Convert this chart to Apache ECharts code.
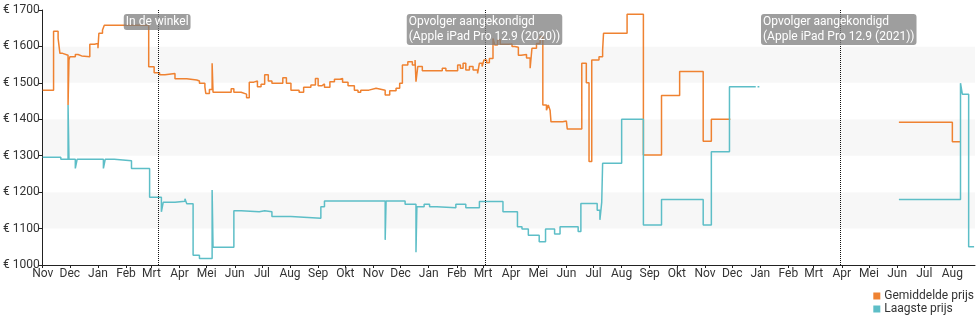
<!DOCTYPE html>
<html>
<head>
<meta charset="utf-8">
<script src="https://cdn.jsdelivr.net/npm/echarts@6/dist/echarts.min.js"></script>
<style>html,body{margin:0;padding:0;background:#fff}#c{width:980px;height:325px}</style>
</head>
<body>
<div id="c"></div>
<script>
var monthNames = ['Jan','Feb','Mrt','Apr','Mei','Jun','Jul','Aug','Sep','Okt','Nov','Dec'];
var seriesNames = ['Gemiddelde prijs','Laagste prijs'];
var yTicks = [1000,1100,1200,1300,1400,1500,1600,1700];
var xRange = ['2018-11-01','2021-08-26'];
var events = [
  ['2019-03-08','In de winkel'],
  ['2020-03-04','Opvolger aangekondigd\n(Apple iPad Pro 12.9 (2020))'],
  ['2021-03-30','Opvolger aangekondigd\n(Apple iPad Pro 12.9 (2021))']
];
var avgPrice = [
['2018-11-01',1480],['2018-11-13',1642],['2018-11-18',1622],['2018-11-20',1581],['2018-11-23',1576],
['2018-11-29',1439],['2018-11-30',1563],['2018-12-01',1572],['2018-12-07',1578],['2018-12-10',1574],
['2018-12-14',1572],['2018-12-23',1606],['2018-12-28',1608],['2019-01-01',1595],['2019-01-02',1636],
['2019-01-06',1645],['2019-01-08',1658],['2019-02-26',1544],['2019-03-04',1528],['2019-03-10',1522],
['2019-03-16',1526],['2019-03-27',1511],['2019-04-09',1508],['2019-04-20',1505],['2019-04-23',1499],
['2019-04-29',1489],['2019-04-30',1471],['2019-05-04',1482],['2019-05-07',1554],['2019-05-08',1474],
['2019-05-28',1484],['2019-05-31',1474],['2019-06-08',1469],['2019-06-14',1459],['2019-06-17',1502],
['2019-06-22',1505],['2019-06-26',1489],['2019-06-30',1496],['2019-07-04',1522],['2019-07-08',1505],
['2019-07-12',1499],['2019-07-24',1514],['2019-07-28',1499],['2019-08-02',1480],['2019-08-11',1474],
['2019-08-16',1488],['2019-08-24',1494],['2019-08-29',1512],['2019-09-01',1492],['2019-09-05',1497],
['2019-09-08',1488],['2019-09-14',1503],['2019-09-19',1510],['2019-09-25',1512],['2019-09-28',1502],
['2019-10-04',1492],['2019-10-11',1480],['2019-10-15',1474],['2019-10-18',1480],['2019-10-27',1485],
['2019-11-04',1480],['2019-11-14',1467],['2019-11-19',1478],['2019-11-26',1485],['2019-11-30',1499],
['2019-12-03',1549],['2019-12-09',1558],['2019-12-14',1549],['2019-12-17',1563],['2019-12-18',1503],
['2019-12-20',1545],['2019-12-25',1533],['2020-01-16',1540],['2020-01-20',1533],['2020-02-02',1549],
['2020-02-05',1540],['2020-02-08',1554],['2020-02-11',1535],['2020-02-15',1545],['2020-02-19',1535],
['2020-02-24',1526],['2020-02-26',1554],['2020-02-29',1545],['2020-03-02',1563],['2020-03-05',1555],
['2020-03-08',1567],['2020-03-12',1622],['2020-03-14',1604],['2020-03-17',1618],['2020-03-20',1606],
['2020-03-29',1607],['2020-04-02',1600],['2020-04-05',1598],['2020-04-09',1576],['2020-04-12',1578],
['2020-04-18',1568],['2020-04-22',1540],['2020-04-24',1595],['2020-04-29',1608],['2020-05-03',1627],
['2020-05-06',1439],['2020-05-10',1425],['2020-05-12',1439],['2020-05-14',1425],['2020-05-15',1393],
['2020-05-28',1395],['2020-06-01',1390],['2020-06-02',1373],['2020-06-18',1554],['2020-06-23',1500],
['2020-06-26',1284],['2020-06-29',1563],['2020-07-07',1572],['2020-07-11',1590],['2020-07-12',1636],
['2020-08-07',1688],['2020-08-25',1302],['2020-09-14',1465],['2020-10-04',1531],['2020-10-30',1340],
['2020-11-08',1400],['2020-11-28',1400],['2020-11-29',null],
['2021-06-03',1392],['2021-08-01',1338],['2021-08-10',1338]
];
var lowPrice = [
['2018-11-01',1296],['2018-11-21',1290],['2018-11-29',1439],['2018-11-30',1290],['2018-12-07',1265],
['2018-12-09',1290],['2019-01-07',1265],['2019-01-09',1290],['2019-01-19',1286],['2019-02-07',1265],
['2019-02-27',1186],['2019-03-12',1146],['2019-03-14',1172],['2019-03-27',1175],['2019-04-07',1182],
['2019-04-09',1168],['2019-04-16',1027],['2019-04-23',1018],['2019-05-07',1206],['2019-05-08',1049],
['2019-05-31',1149],['2019-06-08',1146],['2019-06-28',1149],['2019-07-04',1146],['2019-07-12',1133],
['2019-08-02',1128],['2019-09-04',1160],['2019-09-08',1176],['2019-11-14',1069],['2019-11-15',1176],
['2019-12-06',1167],['2019-12-18',1035],['2019-12-19',1160],['2019-12-27',1167],['2020-01-02',1160],
['2020-01-10',1157],['2020-01-31',1167],['2020-02-11',1157],['2020-02-26',1174],['2020-03-23',1146],
['2020-04-08',1105],['2020-04-13',1099],['2020-04-20',1082],['2020-05-02',1064],['2020-05-09',1099],
['2020-05-19',1085],['2020-05-25',1105],['2020-06-14',1092],['2020-06-17',1169],['2020-07-05',1150],
['2020-07-08',1124],['2020-07-10',1172],['2020-07-11',1279],['2020-08-01',1400],['2020-08-25',1110],
['2020-09-14',1180],['2020-10-30',1110],['2020-11-08',1311],['2020-11-28',1489],['2020-12-26',1489],
['2020-12-27',null],['2020-12-29',1489],['2020-12-30',1489],['2020-12-31',null],
['2021-06-03',1180],['2021-08-10',1499],['2021-08-12',1469],['2021-08-19',1050],['2021-08-25',1050]
];

function ts(s) { var p = s.split('-'); return new Date(+p[0], +p[1] - 1, +p[2]).getTime(); }
function toXY(arr) { return arr.map(function (d) { return [ts(d[0]), d[1] == null ? '-' : d[1]]; }); }

var monthTicks = [];
(function () {
  var y = 2018, m = 10, end = ts(xRange[1]);
  while (true) {
    var t = new Date(y, m, 1).getTime();
    if (t > end) break;
    monthTicks.push(t);
    m++; if (m > 11) { m = 0; y++; }
  }
})();

var chart = echarts.init(document.getElementById('c'), null, {renderer: 'canvas'});
var font = 'Roboto, "Noto Sans", sans-serif';
var markData = events.map(function (e, i) {
  return {
    xAxis: ts(e[0]),
    label: {formatter: e[1], offset: [i === 0 ? -34 : -79, 9]}
  };
});
chart.setOption({
  animation: false,
  textStyle: {fontFamily: font},
  grid: {left: 40, right: 5, top: 10, bottom: 60},
  legend: {
    orient: 'vertical', right: 6, top: 290, padding: 0,
    itemWidth: 7, itemHeight: 7, itemGap: 1,
    icon: 'rect', align: 'left',
    textStyle: {fontSize: 12, color: '#333', fontFamily: font, padding: [0, 0, 0, -1]},
    data: seriesNames
  },
  xAxis: {
    type: 'value',
    min: ts(xRange[0]),
    max: ts(xRange[1]),
    axisLine: {lineStyle: {color: '#222', width: 1}},
    axisTick: {customValues: monthTicks, length: 3, lineStyle: {color: '#222'}},
    axisLabel: {
      customValues: monthTicks,
      color: '#333', fontSize: 12, margin: 3, fontFamily: font,
      formatter: function (v) { return monthNames[new Date(v).getMonth()]; }
    },
    splitLine: {show: false}
  },
  yAxis: {
    type: 'value',
    min: yTicks[0], max: yTicks[yTicks.length - 1], interval: 100,
    axisLine: {show: true, lineStyle: {color: '#222', width: 1}},
    axisTick: {show: true, length: 4, lineStyle: {color: '#222'}},
    axisLabel: {color: '#333', fontSize: 12, margin: 3, fontFamily: font,
      formatter: function (v) { return '\u20ac ' + v; }},
    splitLine: {show: false},
    splitArea: {show: true, areaStyle: {color: ['#ffffff', '#f7f7f7']}}
  },
  series: [
    {
      name: seriesNames[0], type: 'line', step: 'end', showSymbol: false, connectNulls: false,
      data: toXY(avgPrice), color: '#ef8231',
      lineStyle: {width: 1.5, color: '#ef8231'},
      markLine: {
        silent: true, symbol: 'none',
        lineStyle: {type: 'dotted', color: '#111', width: 1},
        label: {
          show: true, position: 'end', align: 'left', verticalAlign: 'top',
          color: '#fff', fontSize: 12, lineHeight: 15, fontFamily: font,
          backgroundColor: 'rgba(125,125,125,0.75)', borderRadius: 3, padding: [0, 2, 1, 2]
        },
        data: markData
      }
    },
    {
      name: seriesNames[1], type: 'line', step: 'end', showSymbol: false, connectNulls: false,
      data: toXY(lowPrice), color: '#5dbec7',
      lineStyle: {width: 1.5, color: '#5dbec7'}
    }
  ]
});
</script>
</body>
</html>
